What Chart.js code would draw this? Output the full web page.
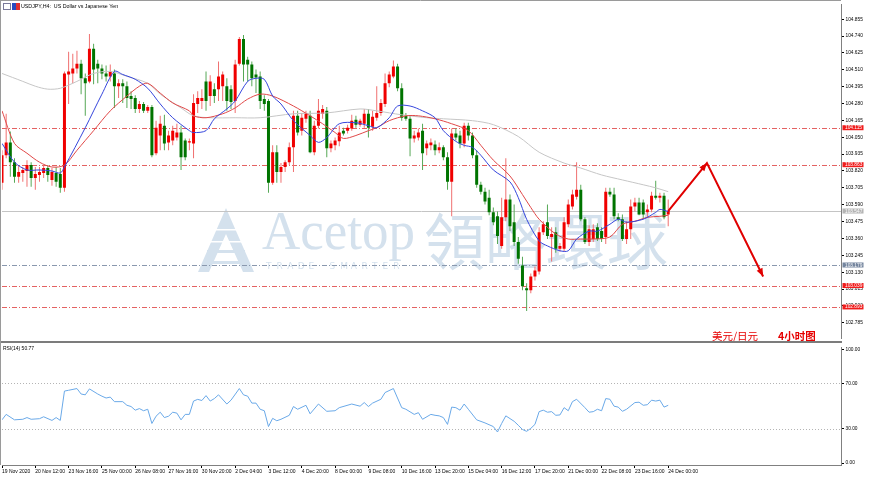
<!DOCTYPE html>
<html><head><meta charset="utf-8">
<script src="https://cdn.jsdelivr.net/npm/chart.js@4.4.1/dist/chart.umd.min.js"></script>
<style>
html,body{margin:0;padding:0;background:#fff;}
#wrap{position:relative;width:870px;height:479px;overflow:hidden;background:#fff;}
#top{position:absolute;left:0;top:0;}
#bot{position:absolute;left:0;top:343px;}
</style></head><body>
<div id="wrap"><canvas id="top" width="870" height="343"></canvas><canvas id="bot" width="870" height="136"></canvas></div>
<script>
// ---------- DATA ----------
const opens = [103.739,103.927,104.015,103.880,103.780,103.806,103.820,103.860,103.773,103.793,103.806,103.840,103.759,103.806,103.800,103.705,104.478,104.485,104.519,104.552,104.452,104.431,104.653,104.552,104.519,104.485,104.465,104.485,104.398,104.418,104.398,104.331,104.317,104.243,104.277,104.230,104.257,103.941,104.062,104.129,104.015,104.028,104.048,104.082,104.028,104.015,104.008,104.277,104.297,104.431,104.331,104.378,104.378,104.398,104.398,104.378,104.297,104.552,104.720,104.579,104.546,104.478,104.465,104.310,104.297,103.739,103.948,103.813,103.847,103.880,103.981,104.196,104.095,104.176,104.196,103.948,104.129,104.210,104.230,103.975,103.995,104.022,104.095,104.095,104.109,104.169,104.136,104.142,104.210,104.122,104.183,104.216,104.277,104.418,104.465,104.532,104.384,104.196,104.176,104.042,104.048,104.095,103.975,103.995,104.001,103.961,103.981,103.914,103.746,104.075,104.062,104.008,104.129,104.062,103.927,103.726,103.679,103.638,103.538,103.511,103.309,103.504,103.625,103.471,103.336,103.175,103.020,103.007,103.101,103.134,103.403,103.471,103.370,103.403,103.289,103.289,103.457,103.578,103.645,103.692,103.491,103.336,103.356,103.437,103.410,103.370,103.679,103.659,103.504,103.491,103.356,103.423,103.578,103.605,103.605,103.538,103.558,103.652,103.638,103.652,103.524];
const highs = [103.961,104.210,104.089,103.907,103.854,103.847,103.894,103.880,103.847,103.847,103.860,103.860,103.840,103.847,103.840,104.499,104.633,104.620,104.640,104.579,104.485,104.754,104.687,104.579,104.546,104.539,104.546,104.512,104.445,104.445,104.431,104.364,104.337,104.297,104.290,104.270,104.270,104.163,104.196,104.203,104.095,104.129,104.142,104.129,104.042,104.042,104.344,104.364,104.378,104.499,104.472,104.418,104.566,104.499,104.452,104.405,104.579,104.734,104.747,104.599,104.566,104.512,104.499,104.337,104.310,103.995,103.995,103.874,103.894,104.015,104.230,104.230,104.216,104.230,104.230,104.163,104.310,104.270,104.257,104.028,104.048,104.129,104.115,104.136,104.203,104.196,104.176,104.243,104.243,104.230,104.398,104.310,104.485,104.499,104.573,104.552,104.418,104.216,104.196,104.095,104.109,104.142,104.028,104.042,104.028,104.015,103.995,103.948,104.109,104.109,104.095,104.149,104.149,104.082,103.961,103.746,103.705,103.692,103.571,103.544,103.638,103.907,103.659,103.591,103.370,103.235,103.054,103.121,103.168,103.437,103.477,103.591,103.437,103.437,103.329,103.504,103.625,103.692,103.880,103.726,103.504,103.450,103.457,103.464,103.437,103.705,103.705,103.705,103.531,103.524,103.477,103.625,103.638,103.638,103.625,103.591,103.679,103.753,103.672,103.672,103.625];
const lows = [103.692,103.907,103.780,103.739,103.739,103.746,103.712,103.712,103.692,103.746,103.773,103.746,103.719,103.712,103.672,103.679,104.277,104.418,104.485,104.344,104.196,104.418,104.411,104.418,104.445,104.431,104.431,104.250,104.317,104.284,104.250,104.243,104.216,104.216,104.216,104.216,103.914,103.927,103.961,103.961,103.961,103.995,104.028,103.827,103.894,103.961,103.907,104.216,104.243,104.230,104.263,104.284,104.297,104.297,104.230,104.243,104.216,104.539,104.431,104.431,104.398,104.351,104.243,104.230,103.672,103.726,103.739,103.739,103.813,103.860,103.813,104.062,104.062,104.149,103.941,103.927,104.109,104.176,103.914,103.948,103.961,103.988,104.062,104.075,104.095,104.115,104.122,104.115,104.048,104.095,104.163,104.196,104.257,104.391,104.452,104.364,104.163,104.163,103.921,104.015,104.028,103.827,103.927,103.961,103.927,103.941,103.894,103.692,103.511,104.028,103.975,103.981,104.028,103.907,103.705,103.659,103.591,103.518,103.450,103.323,103.289,103.477,103.410,103.309,103.188,103.007,102.866,102.987,103.074,103.114,103.383,103.356,103.202,103.262,103.269,103.269,103.437,103.558,103.625,103.477,103.323,103.309,103.336,103.343,103.336,103.323,103.645,103.491,103.477,103.343,103.323,103.356,103.544,103.518,103.491,103.504,103.538,103.625,103.605,103.491,103.444];
const closes = [103.927,104.015,103.880,103.780,103.813,103.827,103.860,103.773,103.800,103.813,103.840,103.793,103.813,103.746,103.705,104.485,104.499,104.519,104.552,104.452,104.418,104.653,104.512,104.519,104.485,104.465,104.499,104.398,104.418,104.398,104.317,104.310,104.243,104.277,104.230,104.257,103.927,104.115,104.142,104.008,104.062,104.095,104.082,103.914,103.914,104.022,104.284,104.317,104.317,104.297,104.431,104.331,104.465,104.478,104.297,104.290,104.546,104.720,104.546,104.546,104.452,104.458,104.297,104.277,103.739,103.948,103.813,103.847,103.880,103.981,104.196,104.082,104.183,104.210,103.948,104.129,104.230,104.243,103.975,104.008,104.028,104.082,104.075,104.115,104.163,104.136,104.163,104.210,104.115,104.189,104.216,104.284,104.418,104.478,104.532,104.384,104.183,104.176,104.042,104.062,104.082,103.941,104.008,104.015,103.961,103.981,103.914,103.746,104.075,104.048,104.008,104.129,104.062,103.927,103.726,103.679,103.612,103.538,103.471,103.376,103.504,103.625,103.443,103.336,103.222,103.034,103.007,103.101,103.141,103.403,103.457,103.376,103.390,103.289,103.309,103.471,103.591,103.659,103.692,103.491,103.336,103.423,103.423,103.356,103.356,103.679,103.659,103.511,103.491,103.356,103.423,103.578,103.605,103.524,103.524,103.558,103.652,103.638,103.652,103.504,103.547];

// moving averages (bar index, price)
const maFastBars = [0,3,6,9,12,14,15,20,24,27,29,32,35,38,41,45,46,49,51,54,56,59,61,63,65,67,70,74,76,78,81,85,88,90,93,95,98,101,104,106,109,111,113,115,118,122,124,126,129,131,134,136,138,141,143,146,148,150,154,157,158,160];
const maFastVals = [104.008,103.880,103.827,103.827,103.820,103.806,103.847,104.115,104.344,104.499,104.478,104.445,104.384,104.277,104.183,104.095,104.082,104.095,104.176,104.243,104.297,104.431,104.452,104.445,104.331,104.277,104.163,104.062,104.015,104.048,104.142,104.149,104.129,104.115,104.183,104.263,104.263,104.230,104.183,104.095,104.022,103.995,103.981,103.927,103.827,103.746,103.638,103.491,103.343,103.309,103.276,103.276,103.356,103.410,103.410,103.457,103.491,103.471,103.491,103.538,103.558,103.544];
const maMidBars = [0,3,6,9,12,15,18,22,26,30,33,35,38,41,45,46,49,53,56,59,62,65,70,74,77,80,82,85,88,90,93,97,100,104,108,112,115,118,122,125,127,129,133,136,139,142,146,149,152,155,158,160];
const maMidVals = [104.230,104.008,103.941,103.880,103.847,103.860,103.961,104.095,104.230,104.331,104.398,104.418,104.351,104.284,104.230,104.196,104.183,104.210,104.250,104.310,104.344,104.331,104.263,104.196,104.142,104.082,104.042,104.062,104.095,104.115,104.163,104.196,104.196,104.176,104.142,104.095,103.995,103.894,103.786,103.659,103.571,103.491,103.390,103.356,103.356,103.356,103.370,103.457,103.477,103.504,103.511,103.518];
const maSlowBars = [0,5,8,11,14,18,22,26,30,35,38,43,46,50,56,62,70,78,86,90,96,102,106,113,118,124,129,135,139,144,149,154,157,160];
const maSlowVals = [104.485,104.431,104.398,104.378,104.384,104.431,104.485,104.499,104.465,104.418,104.344,104.250,104.196,104.183,104.183,104.183,104.210,104.216,104.243,104.230,104.203,104.183,104.176,104.163,104.136,104.055,103.948,103.874,103.840,103.793,103.759,103.726,103.705,103.679];

// forecast arrows (bar index, price)
const forecastBars = [160,169.3,182.8];
const forecastVals = [103.547,103.874,103.101];

// horizontal levels
const levelPrices = [104.115,103.863,103.547,103.179,103.039,102.893];

// RSI(14)
const rsiBars = [0,1,3,5,6,7,9,10,12,13,14,15,16,18,19,20,21,23,24,25,26,27,29,30,31,32,33,34,35,36,37,38,39,40,41,42,43,44,45,46,47,48,49,50,51,52,54,55,57,58,59,60,61,62,63,64,65,66,67,69,70,71,73,74,76,78,80,81,84,86,87,88,89,91,92,94,96,97,99,100,101,103,104,105,106,107,108,109,110,111,112,114,116,118,119,120,121,123,124,125,126,127,128,129,130,131,132,133,134,135,136,137,138,140,141,142,143,144,145,146,147,148,149,150,152,153,154,155,156,157,158,159,160];
const rsiValues = [38,42.8,38,38.5,40,38.5,39,40.7,37.5,40,37.5,63.3,64,65.5,60.7,60,65.2,60.7,58.8,57.2,58,54,54,50.8,49.7,46.5,47.9,46,47.3,34.8,41.2,44.7,40,41.2,44.7,43.9,38,42.8,42.8,54.5,56,55,59.3,54.5,56.7,60,51.9,55.3,65.5,60,58.8,52.7,52.7,47.3,46,32.1,39.3,37.2,38.5,42,49.7,47.3,50.8,43.3,51.9,45.5,46,48.7,51.9,50,53.2,49.7,52.7,56.1,62,65.5,48.7,47.3,42.8,44.3,38.5,42.8,42,41.5,40,34,49.2,48.7,46.5,51.9,47.3,38,35.3,32.1,27.3,34.8,41.5,36.7,33.2,29.5,27.9,30.5,34,45.2,46.5,44.7,45.2,42,42.3,48.7,46,54,56.1,48.7,44.7,45.2,47.3,46,56.7,56.1,50,49.2,45.5,47.3,53.2,53.5,50.8,51.3,55.3,54.5,55.3,49.2,50.77];

// axis ticks
const priceTicks = [104.855,104.740,104.625,104.510,104.395,104.280,104.165,104.050,103.935,103.820,103.705,103.590,103.475,103.360,103.245,103.130,103.015,102.900,102.785];
const rsiTicks = [100,70,30,0];
const xTickBars = [0,8,16,24,32,40,48,56,64,72,80,88,96,104,112,120,128,136,144,152,160];
const xTickLabels = ["19 Nov 2020","20 Nov 12:00","23 Nov 16:00","25 Nov 00:00","26 Nov 08:00","27 Nov 16:00","30 Nov 20:00","2 Dec 04:00","3 Dec 12:00","4 Dec 20:00","8 Dec 00:00","9 Dec 08:00","10 Dec 16:00","13 Dec 20:00","15 Dec 04:00","16 Dec 12:00","17 Dec 20:00","21 Dec 00:00","22 Dec 08:00","23 Dec 16:00","24 Dec 00:00"];

// ---------- STYLE ----------
Chart.defaults.font.family = '"Liberation Sans", Arial, sans-serif';
const UP = '#f00000', DOWN = '#007400', UPW = '#f07070', DOWNW = '#56a856';
const X_MIN = 0, X_MAX = 201.5;
const barIdx = opens.map((_, i) => i);
const isUp = i => closes[i] >= opens[i];
const pts = (bs, vs) => bs.map((b, k) => ({x: b, y: vs[k]}));
const levelStyle = ['red','red','bid','blue','red','red'];

const topDecor = {
  id: 'topDecor',
  beforeDatasetsDraw(chart) {
    const {ctx, chartArea: a, scales: {y}} = chart;
    ctx.save();
    // watermark
    const WM = '#d4e1ed';
    ctx.fillStyle = WM;
    ctx.beginPath();
    ctx.moveTo(226,208); ctx.lineTo(254,272); ctx.lineTo(243,272); ctx.lineTo(226,234);
    ctx.lineTo(209,272); ctx.lineTo(198,272); ctx.closePath(); ctx.fill();
    ctx.fillRect(207,250,38,3); ctx.fillRect(203,261,46,3);
    ctx.fillStyle = '#ffffff';
    ctx.fillRect(196,229,60,1.5); ctx.fillRect(196,241,60,1.5);
    ctx.fillStyle = WM;
    ctx.font = '54px "Liberation Serif"';
    ctx.textBaseline = 'alphabetic';
    const w1 = ctx.measureText('Acetop').width;
    ctx.save(); ctx.translate(262, 249); ctx.scale(153 / w1, 1); ctx.fillText('Acetop', 0, 0); ctx.restore();
    ctx.font = '9px "DejaVu Sans"'; ctx.textBaseline = 'middle';
    const ts = 'TRADE SMARTER';
    for (let k = 0; k < ts.length; k++) ctx.fillText(ts[k], 266 + k * 10.6, 267);
    ctx.font = '61px "Noto Sans CJK TC"'; ctx.textBaseline = 'middle';
    ctx.fillText('領略環球', 424, 242);
    // level lines
    levelPrices.forEach((p, k) => {
      const py = Math.round(y.getPixelForValue(p)) + 0.5;
      const s = levelStyle[k];
      ctx.beginPath();
      ctx.lineWidth = 1;
      if (s === 'bid') { ctx.strokeStyle = '#c4c4c4'; ctx.setLineDash([]); }
      else if (s === 'blue') { ctx.strokeStyle = '#8a98ae'; ctx.setLineDash([5,2,1,2]); }
      else { ctx.strokeStyle = '#e46262'; ctx.setLineDash([5,2,1,2]); }
      ctx.moveTo(a.left, py); ctx.lineTo(a.right, py); ctx.stroke();
    });
    ctx.restore();
  },
  afterDraw(chart) {
    const {ctx, chartArea: a, scales: {x, y}} = chart;
    ctx.save();
    // arrowheads on forecast path
    const P = forecastBars.map((b, k) => [x.getPixelForValue(b), y.getPixelForValue(forecastVals[k])]);
    ctx.fillStyle = '#e00000';
    const head = (p0, p1) => {
      const ang = Math.atan2(p1[1] - p0[1], p1[0] - p0[0]);
      const L = 8, W = 3.2;
      ctx.beginPath();
      ctx.moveTo(p1[0], p1[1]);
      ctx.lineTo(p1[0] - L * Math.cos(ang) + W * Math.sin(ang), p1[1] - L * Math.sin(ang) - W * Math.cos(ang));
      ctx.lineTo(p1[0] - L * Math.cos(ang) - W * Math.sin(ang), p1[1] - L * Math.sin(ang) + W * Math.cos(ang));
      ctx.closePath(); ctx.fill();
    };
    head(P[0], P[1]); head(P[1], P[2]);
    // price boxes on right axis
    ctx.font = '4.8px "Liberation Sans"'; ctx.textBaseline = 'middle'; ctx.textAlign = 'left';
    levelPrices.forEach((p, k) => {
      const py = y.getPixelForValue(p);
      const s = levelStyle[k];
      ctx.fillStyle = s === 'bid' ? '#b4b4b4' : (s === 'blue' ? '#74859e' : '#f01c1c');
      ctx.fillRect(a.right + 1.5, py - 2.5, 21, 5);
      ctx.fillStyle = '#ffffff';
      ctx.fillText(p.toFixed(3), a.right + 4, py + 0.2);
    });
    // title
    ctx.fillStyle = '#000';
    ctx.font = '5.3px "Liberation Sans"'; ctx.textBaseline = 'middle';
    ctx.fillText('USDJPY,H4:  US Dollar vs Japanese Yen', 21, 6.5);
    ctx.strokeStyle = '#7a7a9a'; ctx.lineWidth = 1;
    ctx.strokeRect(3.5, 3.5, 7, 6);
    ctx.fillStyle = '#2a4bc0'; ctx.fillRect(12, 3, 4, 7);
    ctx.fillStyle = '#e03030'; ctx.fillRect(16, 3, 4, 7);
    // annotation
    ctx.fillStyle = '#e60000';
    ctx.font = '10.5px "Noto Sans CJK SC"'; ctx.textBaseline = 'middle';
    ctx.fillText('美元/日元', 712, 336);
    ctx.font = 'bold 10.5px "Noto Sans CJK SC"';
    ctx.fillText('4小时图', 778, 336);
    // panel separator and frame
    ctx.fillStyle = '#7c7c7c';
    ctx.fillRect(0, 341, a.right + 1, 2);
    ctx.strokeStyle = '#9a9a9a'; ctx.lineWidth = 1;
    ctx.beginPath(); ctx.moveTo(0, 0.5); ctx.lineTo(a.right, 0.5); ctx.stroke();
    ctx.beginPath(); ctx.moveTo(0.5, 0); ctx.lineTo(0.5, 343); ctx.stroke();
    ctx.restore();
  }
};

new Chart(document.getElementById('top'), {
  type: 'bar',
  data: {
    datasets: [
      {type: 'line', label: 'Forecast', data: pts(forecastBars, forecastVals), borderColor: '#e00000', borderWidth: 2, pointRadius: 0, order: 0},
      {type: 'line', label: 'MA fast', data: pts(maFastBars, maFastVals), borderColor: '#3646dc', borderWidth: 1, pointRadius: 0, tension: 0.3, order: 1},
      {type: 'line', label: 'MA mid', data: pts(maMidBars, maMidVals), borderColor: '#e04848', borderWidth: 1, pointRadius: 0, tension: 0.3, order: 1},
      {type: 'line', label: 'MA slow', data: pts(maSlowBars, maSlowVals), borderColor: '#c6c6c6', borderWidth: 1, pointRadius: 0, tension: 0.3, order: 1},
      {type: 'bar', label: 'Body', data: barIdx.map(i => ({x: i, y: [opens[i], closes[i]]})),
        backgroundColor: barIdx.map(i => isUp(i) ? UP : DOWN), borderWidth: 0, grouped: false,
        categoryPercentage: 1, barPercentage: 0.75, maxBarThickness: 3, minBarLength: 1, order: 2},
      {type: 'bar', label: 'Wick', data: barIdx.map(i => ({x: i, y: [lows[i], highs[i]]})),
        backgroundColor: barIdx.map(i => isUp(i) ? UPW : DOWNW), borderWidth: 0, grouped: false,
        categoryPercentage: 1, barPercentage: 0.3, maxBarThickness: 1, order: 3}
    ]
  },
  options: {
    responsive: false, animation: false, devicePixelRatio: 1,
    layout: {padding: {left: 2, top: 2, right: 0, bottom: 2}},
    plugins: {legend: {display: false}, tooltip: {enabled: false}},
    scales: {
      x: {type: 'linear', min: X_MIN, max: X_MAX, display: false, offset: false},
      y: {type: 'linear', position: 'right', min: 102.677, max: 104.956,
        afterBuildTicks: s => { s.ticks = priceTicks.map(v => ({value: v})); },
        afterFit: s => { s.width = 29; },
        ticks: {autoSkip: false, padding: 1.5, color: '#000', font: {size: 4.8}, callback: v => Number(v).toFixed(3)},
        grid: {drawOnChartArea: false, drawTicks: true, tickLength: 3, color: '#000'},
        border: {display: true, color: '#808080', width: 1}
      }
    }
  },
  plugins: [topDecor]
});

const botDecor = {
  id: 'botDecor',
  beforeDatasetsDraw(chart) {
    const {ctx, chartArea: a, scales: {y}} = chart;
    ctx.save();
    ctx.strokeStyle = '#b4b4b4'; ctx.lineWidth = 1; ctx.setLineDash([1, 2]);
    [70, 30].forEach(v => {
      const py = Math.round(y.getPixelForValue(v)) + 0.5;
      ctx.beginPath(); ctx.moveTo(a.left, py); ctx.lineTo(a.right, py); ctx.stroke();
    });
    ctx.restore();
  },
  afterDraw(chart) {
    const {ctx} = chart;
    ctx.save();
    ctx.fillStyle = '#000'; ctx.font = '5px "Liberation Sans"'; ctx.textBaseline = 'middle';
    ctx.fillText('RSI(14) ' + rsiValues[rsiValues.length - 1].toFixed(2), 3, 5.5);
    ctx.strokeStyle = '#9a9a9a'; ctx.lineWidth = 1;
    ctx.beginPath(); ctx.moveTo(0.5, 0); ctx.lineTo(0.5, 122); ctx.stroke();
    ctx.restore();
  }
};

new Chart(document.getElementById('bot'), {
  type: 'line',
  data: {datasets: [{label: 'RSI(14)', data: pts(rsiBars, rsiValues), borderColor: '#6aa9e8', borderWidth: 1, pointRadius: 0}]},
  options: {
    responsive: false, animation: false, devicePixelRatio: 1,
    layout: {padding: {left: 2, top: 1, right: 0, bottom: 0}},
    plugins: {legend: {display: false}, tooltip: {enabled: false}},
    scales: {
      x: {type: 'linear', min: X_MIN, max: X_MAX, offset: false,
        afterBuildTicks: s => { s.ticks = xTickBars.map(v => ({value: v})); },
        afterFit: s => { s.height = 14; },
        ticks: {autoSkip: false, maxRotation: 0, minRotation: 0, align: 'start', padding: 1, color: '#000', font: {size: 5},
          callback: (v, i) => xTickLabels[i]},
        grid: {drawOnChartArea: false, drawTicks: true, tickLength: 3, color: '#000'},
        border: {display: true, color: '#808080', width: 1}
      },
      y: {type: 'linear', position: 'right', min: -1.71, max: 101.71,
        afterBuildTicks: s => { s.ticks = rsiTicks.map(v => ({value: v})); },
        afterFit: s => { s.width = 29; },
        ticks: {autoSkip: false, padding: 1.5, color: '#000', font: {size: 4.8}, callback: v => Number(v).toFixed(2)},
        grid: {drawOnChartArea: false, drawTicks: true, tickLength: 3, color: '#000'},
        border: {display: true, color: '#808080', width: 1}
      }
    }
  },
  plugins: [botDecor]
});
</script>
</body></html>
